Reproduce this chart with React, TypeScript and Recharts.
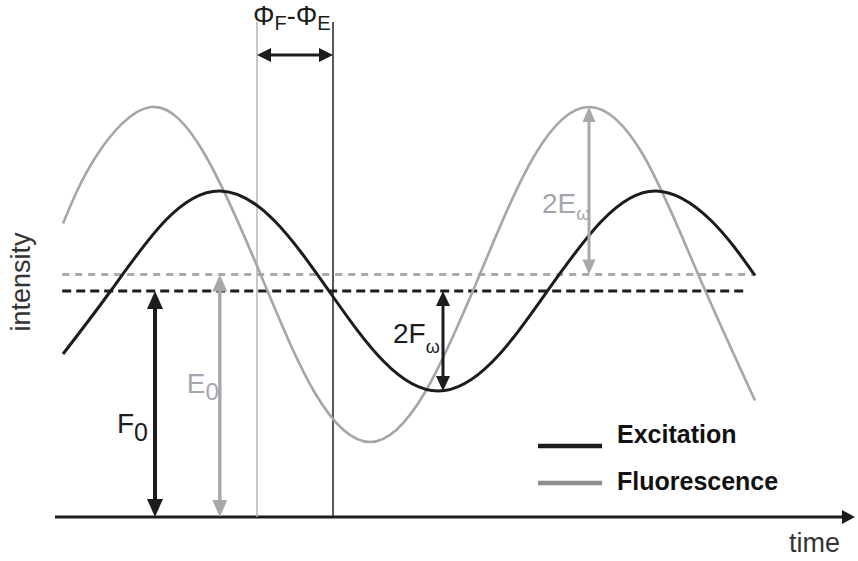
import React from 'react';
import { ComposedChart, Line, XAxis, YAxis, ReferenceLine, Legend } from 'recharts';

// time axis runs 0..100, intensity 0..10
const excitationTime = [1.0, 6.95, 13.8, 20.6, 27.4, 34.25, 41.1, 47.9, 54.7, 61.55, 68.4, 75.2, 82.0, 87.5];
const excitationValue = [3.26, 4.52, 5.93, 6.52, 5.93, 4.52, 3.11, 2.52, 3.11, 4.52, 5.93, 6.52, 5.93, 4.83];

const fluorescenceTime = [1.0, 5.16, 12.0, 18.84, 25.7, 32.5, 39.4, 46.2, 53.1, 59.9, 66.75, 73.6, 80.4, 87.5];
const fluorescenceValue = [5.87, 7.22, 8.2, 7.22, 4.85, 2.48, 1.5, 2.48, 4.85, 7.22, 8.2, 7.22, 4.85, 2.33];

// mean levels (dashed) and their extent
const excitationMean = 4.52;
const fluorescenceMean = 4.85;
const excitationMin = 2.52;
const fluorescenceMax = 8.2;
const levelStart = 0.9;
const excitationLevelEnd = 86.4;
const fluorescenceLevelEnd = 87.5;

// phase markers and where the arrows sit
const phaseFluorescence = 25.25;
const phaseExcitation = 34.75;
const phaseArrowLevel = 9.24;
const markerTop = 9.9;
const f0Time = 12.5;
const e0Time = 20.6;
const fOmegaTime = 48.5;
const eOmegaTime = 66.75;

const excitationData = excitationTime.map((t, i) => ({ t, v: excitationValue[i] }));
const fluorescenceData = fluorescenceTime.map((t, i) => ({ t, v: fluorescenceValue[i] }));

const BLACK = '#1c1c1c';
const GRAY = '#a6a6a6';
const GRAY_TEXT = '#a4a6ad';
const FONT = '"Liberation Sans", Arial, Helvetica, sans-serif';

const headPoints = (tx: number, ty: number, ux: number, uy: number, len: number, w: number) => {
  const bx = tx - ux * len;
  const by = ty - uy * len;
  const px = (-uy * w) / 2;
  const py = (ux * w) / 2;
  return `${tx},${ty} ${bx + px},${by + py} ${bx - px},${by - py}`;
};

type ArrowOpts = { color: string; width: number; headLen: number; headW: number; single?: boolean };
type Pts = { x1: number; y1: number; x2: number; y2: number };

// double headed arrow drawn between the two ends of a reference segment
const arrowShape = (o: ArrowOpts, label?: (p: Pts) => React.ReactNode) => (props: any) => {
  const x1 = Number(props.x1);
  const y1 = Number(props.y1);
  const x2 = Number(props.x2);
  const y2 = Number(props.y2);
  const len = Math.hypot(x2 - x1, y2 - y1) || 1;
  const ux = (x2 - x1) / len;
  const uy = (y2 - y1) / len;
  const cut = o.headLen * 0.8;
  const s = o.single ? 0 : cut;
  return (
    <g>
      <line x1={x1 + ux * s} y1={y1 + uy * s} x2={x2 - ux * cut} y2={y2 - uy * cut} stroke={o.color} strokeWidth={o.width} />
      {!o.single && <polygon points={headPoints(x1, y1, -ux, -uy, o.headLen, o.headW)} fill={o.color} />}
      <polygon points={headPoints(x2, y2, ux, uy, o.headLen, o.headW)} fill={o.color} />
      {label && label({ x1, y1, x2, y2 })}
    </g>
  );
};

const subLabel = (
  x: number,
  y: number,
  main: string,
  sub: string,
  color: string,
  subSize: number,
  dy: number
) => (
  <text x={x} y={y} fill={color} fontFamily={FONT} fontSize={28}>
    <tspan>{main}</tspan>
    <tspan dy={dy} fontSize={subSize}>{sub}</tspan>
  </text>
);

const renderLegend = (props: any) => {
  const order = ['Excitation', 'Fluorescence'];
  const items = [...(props.payload || [])].sort(
    (a: any, b: any) => order.indexOf(a.value) - order.indexOf(b.value)
  );
  return (
    <svg width={280} height={90}>
      {items.map((e: any, i: number) => (
        <g key={e.value}>
          <line x1={8} x2={72} y1={31 + 37 * i} y2={31 + 37 * i} stroke={i === 0 ? BLACK : '#8e8e8e'} strokeWidth={4.5} />
          <text x={87} y={28 + 47 * i} fontFamily={FONT} fontSize={25} fontWeight="bold" fill="#111">
            {e.value}
          </text>
        </g>
      ))}
    </svg>
  );
};

export default function App() {
  return (
    <div style={{ position: 'absolute', left: 0, top: 0, width: 858, height: 561, background: '#fff' }}>
      <ComposedChart width={858} height={561} margin={{ top: 17, right: 3, bottom: 44, left: 55 }}>
        <XAxis type="number" dataKey="t" domain={[0, 100]} hide />
        <YAxis type="number" domain={[0, 10]} hide />

        {/* time axis with arrow, plus axis titles */}
        <ReferenceLine
          segment={[{ x: 0, y: 0 }, { x: 100, y: 0 }]}
          shape={arrowShape({ color: BLACK, width: 3, headLen: 13, headW: 14, single: true }, ({ x1, y1, x2 }) => (
            <g>
              <text x={x2 - 66} y={y1 + 35} fontFamily={FONT} fontSize={27} fill="#333">time</text>
              <text
                x={x1 - 25}
                y={y1 - 235}
                fontFamily={FONT}
                fontSize={27}
                fill="#333"
                textAnchor="middle"
                transform={`rotate(-90, ${x1 - 25}, ${y1 - 235})`}
              >
                intensity
              </text>
            </g>
          ))}
        />

        {/* phase markers */}
        <ReferenceLine
          segment={[{ x: phaseFluorescence, y: 0 }, { x: phaseFluorescence, y: markerTop }]}
          stroke="#b4b4b4"
          strokeWidth={1.5}
        />
        <ReferenceLine
          segment={[{ x: phaseExcitation, y: 0 }, { x: phaseExcitation, y: markerTop }]}
          stroke="#222"
          strokeWidth={1.5}
        />

        {/* mean levels */}
        <ReferenceLine
          segment={[{ x: levelStart, y: fluorescenceMean }, { x: fluorescenceLevelEnd, y: fluorescenceMean }]}
          stroke="#aaaaaa"
          strokeWidth={3.2}
          strokeDasharray="7 6"
        />
        <ReferenceLine
          segment={[{ x: levelStart, y: excitationMean }, { x: excitationLevelEnd, y: excitationMean }]}
          stroke={BLACK}
          strokeWidth={2.8}
          strokeDasharray="9 5"
        />

        <Line
          data={fluorescenceData}
          dataKey="v"
          name="Fluorescence"
          type="natural"
          stroke={GRAY}
          strokeWidth={2.6}
          dot={false}
          activeDot={false}
          isAnimationActive={false}
        />
        <Line
          data={excitationData}
          dataKey="v"
          name="Excitation"
          type="natural"
          stroke={BLACK}
          strokeWidth={3}
          dot={false}
          activeDot={false}
          isAnimationActive={false}
        />

        {/* F0 and E0 */}
        <ReferenceLine
          segment={[{ x: f0Time, y: 0 }, { x: f0Time, y: excitationMean }]}
          shape={arrowShape({ color: BLACK, width: 4, headLen: 18, headW: 16 }, ({ x1, y1, y2 }) =>
            subLabel(x1 - 38, (y1 + y2) / 2 + 29, 'F', '0', BLACK, 25, 8)
          )}
        />
        <ReferenceLine
          segment={[{ x: e0Time, y: 0 }, { x: e0Time, y: fluorescenceMean }]}
          shape={arrowShape({ color: '#a8a8a8', width: 3.5, headLen: 17, headW: 15 }, ({ x1, y1, y2 }) =>
            subLabel(x1 - 33, (y1 + y2) / 2 - 3, 'E', '0', GRAY_TEXT, 24, 7)
          )}
        />

        {/* modulation amplitudes */}
        <ReferenceLine
          segment={[{ x: fOmegaTime, y: excitationMin }, { x: fOmegaTime, y: excitationMean }]}
          shape={arrowShape({ color: BLACK, width: 3, headLen: 15, headW: 14 }, ({ x1, y1, y2 }) =>
            subLabel(x1 - 50, (y1 + y2) / 2 + 2, '2F', 'ω', BLACK, 18, 10)
          )}
        />
        <ReferenceLine
          segment={[{ x: eOmegaTime, y: fluorescenceMean }, { x: eOmegaTime, y: fluorescenceMax }]}
          shape={arrowShape({ color: '#a8a8a8', width: 3, headLen: 15, headW: 13 }, ({ x1, y1, y2 }) =>
            subLabel(x1 - 47, (y1 + y2) / 2 + 22, '2E', 'ω', GRAY_TEXT, 18, 7)
          )}
        />

        {/* phase difference */}
        <ReferenceLine
          segment={[{ x: phaseFluorescence, y: phaseArrowLevel }, { x: phaseExcitation, y: phaseArrowLevel }]}
          shape={arrowShape({ color: BLACK, width: 3, headLen: 14, headW: 14 }, ({ x1, y1 }) => (
            <text x={x1 - 4} y={y1 - 30} fill={BLACK} fontFamily={FONT} fontSize={27}>
              <tspan>Φ</tspan>
              <tspan dy={5} fontSize={20}>F</tspan>
              <tspan dy={-5}>-Φ</tspan>
              <tspan dy={5} fontSize={20}>E</tspan>
            </text>
          ))}
        />

        <Legend
          layout="vertical"
          align="center"
          verticalAlign="middle"
          wrapperStyle={{ left: 530, top: 415, width: 280, height: 90 }}
          content={renderLegend}
        />
      </ComposedChart>
    </div>
  );
}
